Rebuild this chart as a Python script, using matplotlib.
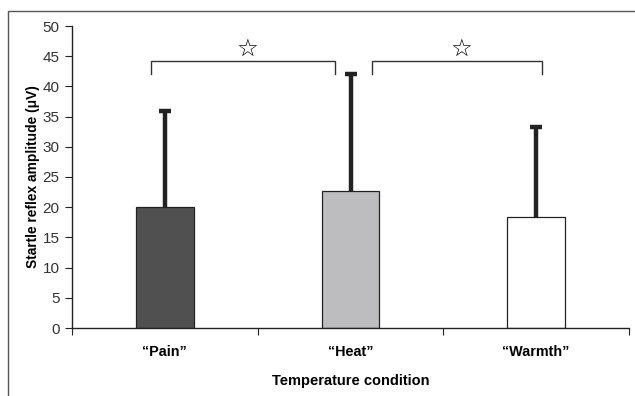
import numpy as np
import matplotlib.pyplot as plt
from matplotlib.patches import Rectangle

plt.rcParams['font.family'] = ['Liberation Sans', 'DejaVu Sans']

conditions = ['\u201cPain\u201d', '\u201cHeat\u201d', '\u201cWarmth\u201d']
means = [20.0, 22.6, 18.4]
upper = [36.0, 42.0, 33.3]
colors = ['#505050', '#bdbdbf', '#ffffff']
y_ticks = list(range(0, 55, 5))

# significance brackets: (left x, right x, y of bar, y of leg end)
brackets = [(0.425, 1.416, 44.2, 42.0), (1.615, 2.53, 44.2, 42.0)]

fig = plt.figure(figsize=(6.35, 3.96), dpi=100)
ax = fig.add_axes([72/635, 1 - 328/396, 557/635, 302/396])

# outer frame (cropped at right and bottom)
fig.patches.append(Rectangle((8/635, -0.1), 1.2, (396 - 11)/396 + 0.1,
                             transform=fig.transFigure, fill=False,
                             edgecolor='#555555', linewidth=1.0))

x = np.arange(len(conditions)) + 0.5
ax.bar(x, means, width=0.31, color=colors, edgecolor='#222222', linewidth=0.9, zorder=2)
# upper-only error bars with a cap on top
ax.vlines(x, means, upper, color='#222222', linewidth=3.2, zorder=3)
ax.plot(x, upper, linestyle='none', marker='_', markersize=8, markeredgewidth=3.2,
        color='#222222', zorder=3)

for x0, x1, yb, yl in brackets:
    ax.plot([x0, x0, x1, x1], [yl, yb, yb, yl], color='#333333', linewidth=1.0,
            clip_on=False, solid_joinstyle='miter')
    ax.text((x0 + x1) / 2 + 0.025, yb + 0.1, '\u2606', ha='center', va='bottom',
            fontsize=17.5, family=['DejaVu Sans'])

ax.set_xlim(0, 3)
ax.set_ylim(0, 50)
ax.set_yticks(y_ticks)
ax.set_xticks([0, 1, 2, 3])
ax.set_xticklabels([])
ax.set_xticks(x, minor=True)
ax.set_xticklabels(conditions, minor=True, fontweight='bold', fontsize=10.4)
ax.tick_params(axis='x', which='minor', length=0, pad=12)
ax.tick_params(axis='x', which='major', length=5, direction='out', color='#222222')
ax.tick_params(axis='y', length=5, direction='out', labelsize=11, pad=4,
               color='#222222', labelcolor='#333333')

ax.spines['top'].set_visible(False)
ax.spines['right'].set_visible(False)
for s in ['left', 'bottom']:
    ax.spines[s].set_color('#222222')
    ax.spines[s].set_linewidth(1.0)

ax.set_ylabel('Startle reflex amplitude (\u03bcV)', fontweight='bold', fontsize=9.9, labelpad=2)
ax.set_xlabel('Temperature condition', fontweight='bold', fontsize=10.5, labelpad=11)

fig.savefig('out.png', dpi=100)
